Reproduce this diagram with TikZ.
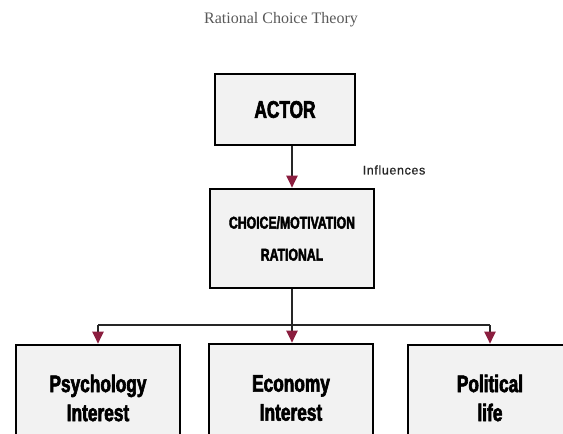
\documentclass[tikz,border=0pt]{standalone}
\usepackage{fontspec}
\setmainfont{Liberation Serif}
\newfontfamily\impact[FakeStretch=0.72, BoldFeatures={FakeBold=2.5}]{Liberation Sans}
\newfontfamily\labelfont[LetterSpace=5, FakeBold=0.8]{Liberation Sans}
\usetikzlibrary{arrows.meta}
\definecolor{arrowred}{HTML}{8B1E3F}
\definecolor{boxfill}{HTML}{F2F2F2}
\tikzset{
  box/.style={draw=black, line width=2.6pt, fill=boxfill, align=center, inner sep=0pt},
  bigtext/.style={font=\impact\bfseries\fontsize{24}{29}\selectfont},
  conn/.style={draw=black!85, line width=2.3pt},
  arr/.style={conn, arrows={-{Triangle[length=12pt,width=11pt,color=arrowred]}}},
}
\begin{document}
\begin{tikzpicture}[x=1pt,y=1pt]
\clip (0,0) rectangle (563,-434);
\fill[white] (0,0) rectangle (563,-434);
\node[font=\fontsize{16}{18}\selectfont, text=black!65] (title) at (281,-20) {Rational Choice Theory};
\node[box, bigtext, minimum width=140pt, minimum height=71pt] (actor) at (285,-109.5) {ACTOR};
\node[box, minimum width=164pt, minimum height=99pt, font=\impact\bfseries\fontsize{17}{32}\selectfont] (choice) at (292,-238.5) {CHOICE/MOTIVATION\\RATIONAL};
\node[font=\labelfont\fontsize{12.5}{15}\selectfont, text=black!85] (infl) at (394,-170) {Influences};
\node[box, bigtext, minimum width=164pt, minimum height=106pt] (psych) at (98,-398) {Psychology\\Interest};
\node[box, bigtext, minimum width=164pt, minimum height=108pt] (econ) at (291,-398) {Economy\\Interest};
\node[box, bigtext, minimum width=164pt, minimum height=106pt] (pol) at (490,-398) {Political\\life};
\coordinate (busL) at (psych.north |- 0,-325);
\coordinate (busR) at (pol.north |- 0,-325);
\coordinate (busM) at (choice.south |- 0,-325);
\draw[arr] (choice.north |- actor.south) -- (choice.north);
\draw[conn] (choice.south) -- (busM);
\draw[conn] (busL) -- (busR);
\draw[arr] (busL) -- (psych.north);
\draw[arr] (busM) -- (econ.north -| busM);
\draw[arr] (busR) -- (pol.north);
\end{tikzpicture}
\end{document}
